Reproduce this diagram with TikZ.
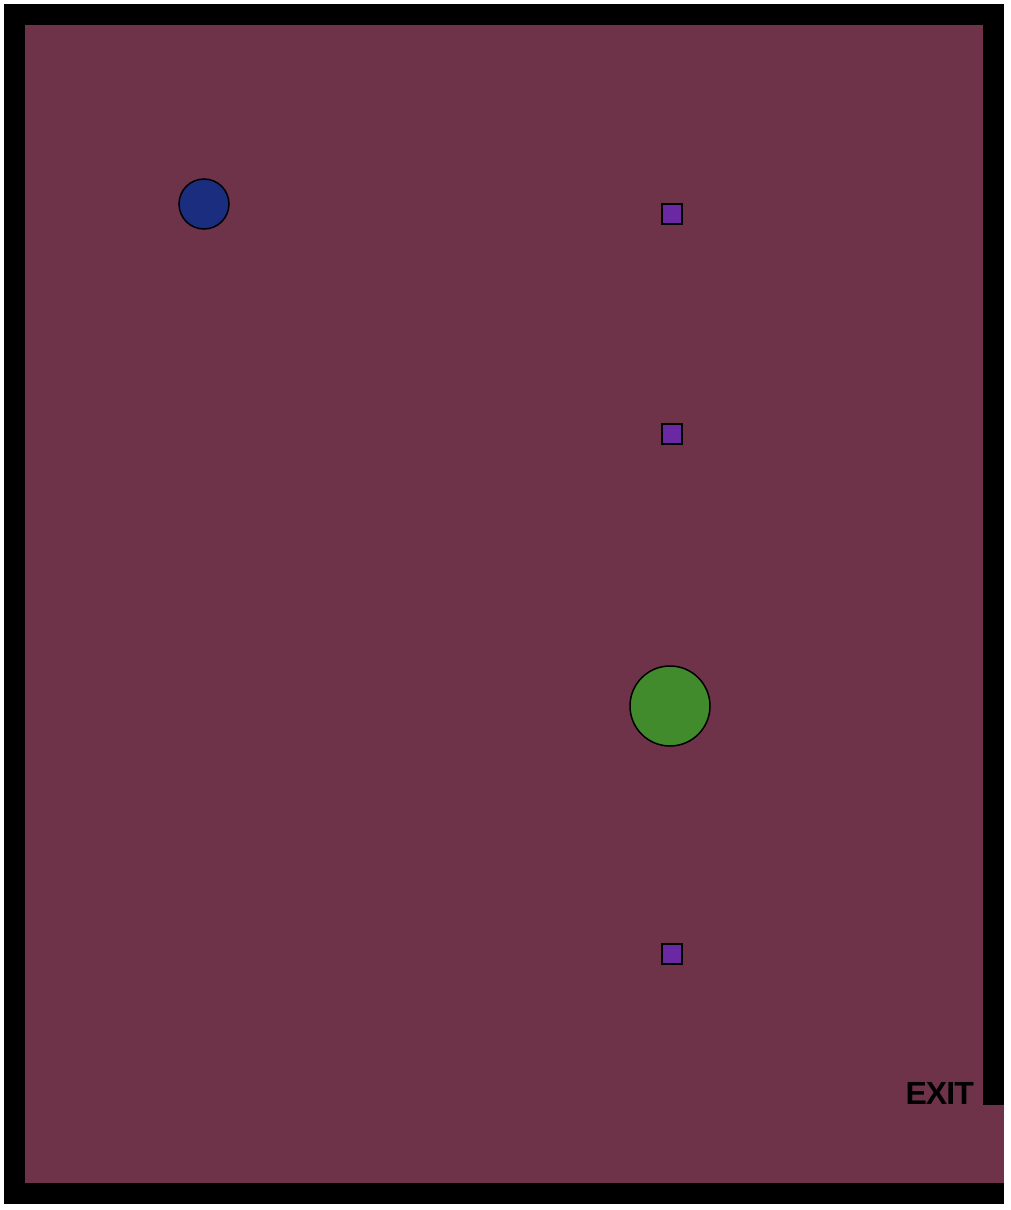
\documentclass[tikz,border=0pt]{standalone}
\usepackage{fontspec}
\setmainfont{Liberation Sans}
\usepackage{tikz}
\usetikzlibrary{positioning}
\definecolor{raum}{HTML}{6E3349}
\definecolor{spieler}{HTML}{1B2D7F}
\definecolor{ziel}{HTML}{428B2C}
\definecolor{kiste}{HTML}{6B28A3}
\tikzstyle{wand} = [fill=black]
\tikzstyle{boden} = [fill=raum]
\tikzstyle{bkreis} = [circle, draw=black, line width=1.5pt, fill=spieler, minimum size=50pt, inner sep=0pt]
\tikzstyle{gkreis} = [circle, draw=black, line width=1.5pt, fill=ziel, minimum size=80pt, inner sep=0pt]
\tikzstyle{box} = [rectangle, draw=black, line width=1.5pt, fill=kiste, minimum size=20pt, inner sep=0pt]
\begin{document}
\begin{tikzpicture}[x=1pt, y=-1pt]

    	\useasboundingbox[fill=white] (0,0) rectangle (1010,1210);

    	% Waende und Boden
    	\fill[wand] (4,4) rectangle (1004,1204);
    	\fill[boden] (25,25) rectangle (983,1183);
    	\fill[boden] (982,1105) rectangle (1004,1183);

    	\node [bkreis] (spieler) at (204,204) {};
    	\node [gkreis] (ziel) at (670,706) {};

    	\node [box] (k1) at (672,214) {};
    	\node [box] (k2) at (672,434) {};
    	\node [box] (k3) at (672,954) {};

    	\node [anchor=base east, inner sep=0pt, font=\bfseries\fontsize{32}{38}\selectfont\addfontfeature{LetterSpace=-3}] (exit) at (974,1104) {EXIT};

    \end{tikzpicture}
\end{document}
